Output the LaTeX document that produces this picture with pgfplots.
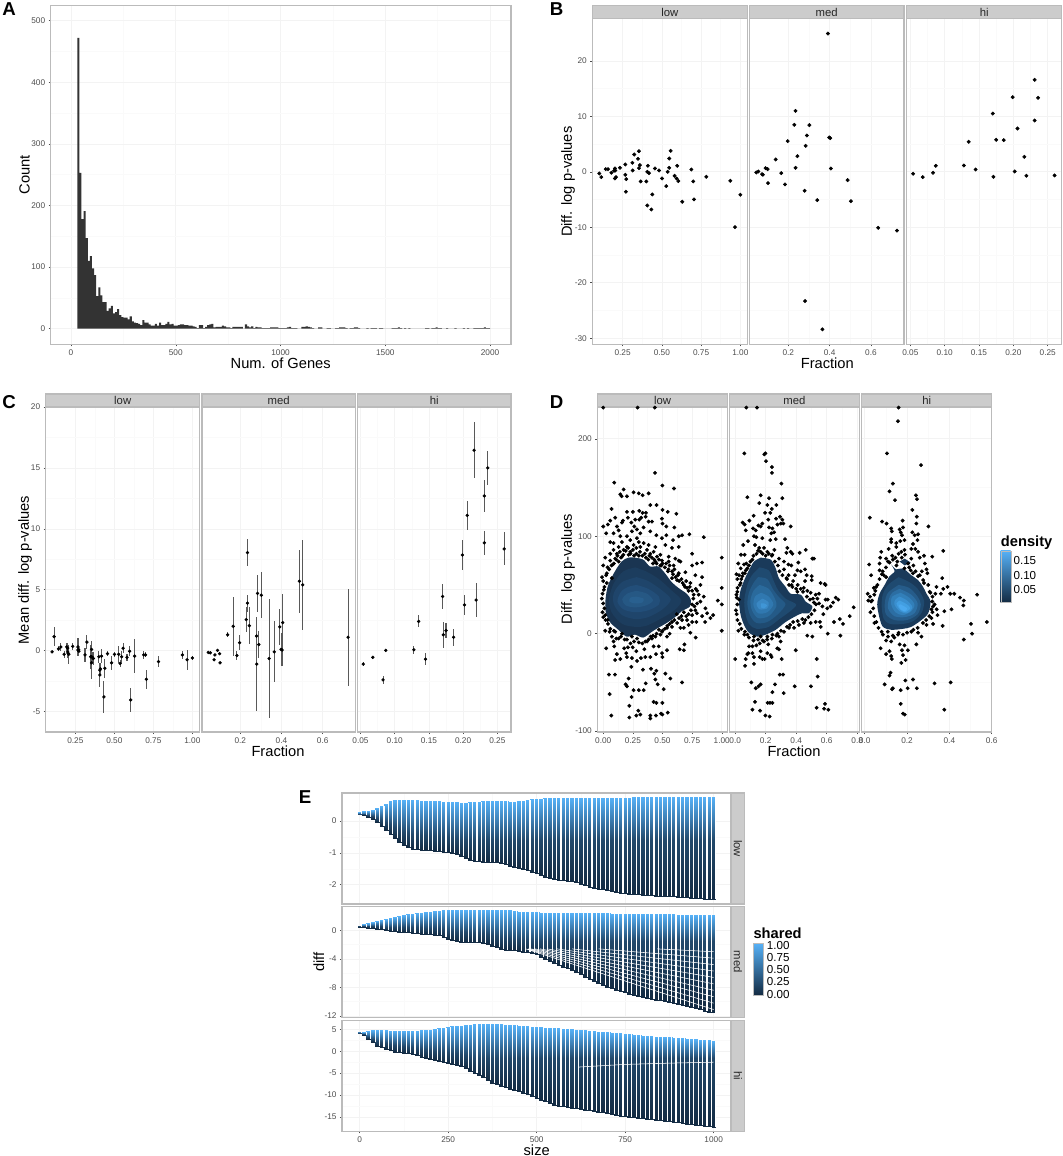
\documentclass[border=0pt]{standalone}
\usepackage{fontspec}
\setmainfont{Liberation Sans}
\usepackage{pgfplots}
\usepackage{pgfplotstable}
\pgfplotsset{compat=1.18}

\definecolor{frameg}{HTML}{BBBBBB}
\definecolor{stripg}{HTML}{CCCCCC}
\definecolor{gridg}{HTML}{F3F3F3}
\definecolor{gridm}{HTML}{FAFAFA}
\definecolor{tickt}{HTML}{4D4D4D}
\definecolor{hist}{HTML}{333333}
\definecolor{ggd}{HTML}{132B43}
\definecolor{ggl}{HTML}{56B1F7}
\definecolor{a1}{HTML}{1A3552}\definecolor{a2}{HTML}{1C3D5E}\definecolor{a3}{HTML}{1F456B}
\definecolor{a4}{HTML}{224E79}\definecolor{a5}{HTML}{265884}\definecolor{a6}{HTML}{29608F}
\definecolor{b1}{HTML}{1A3A5A}\definecolor{b2}{HTML}{1F4A70}\definecolor{b3}{HTML}{245A87}
\definecolor{b4}{HTML}{2A6A9C}\definecolor{b5}{HTML}{3078B0}\definecolor{b6}{HTML}{3A88C4}\definecolor{b7}{HTML}{4096D6}
\definecolor{c1}{HTML}{1A3A5A}\definecolor{c2}{HTML}{1F4A70}\definecolor{c3}{HTML}{265C8A}\definecolor{c4}{HTML}{2C6EA3}
\definecolor{c5}{HTML}{327FB9}\definecolor{c6}{HTML}{3A8FCF}\definecolor{c7}{HTML}{429FE2}\definecolor{c8}{HTML}{4BA9EF}

\pgfplotsset{
  box/.code n args={4}{%
    \pgfmathsetmacro\bw{(#3-#1)*0.75}\pgfmathsetmacro\bh{(#4-#2)*0.75}%
    \pgfplotsset{at={(#1*0.75pt,-#2*0.75pt)},anchor=north west,width=\bw pt,height=\bh pt}},
  gg/.style={scale only axis,
    axis line style={frameg,line width=0.9pt},
    grid=both,
    major grid style={gridg,line width=0.45pt},
    minor grid style={gridm,line width=0.35pt},
    minor tick num=1,minor tick length=0pt,
    major tick length=1.6pt,
    tick style={black!70,line width=0.4pt},
    tick align=outside,xtick pos=bottom,ytick pos=left,
    tick label style={font=\fontsize{6.2}{7}\selectfont,text=tickt},
    xticklabel style={yshift=1pt},yticklabel style={xshift=1pt}},
  inner/.style={yticklabels={},y tick style={draw=none}},
  dots/.style={only marks,mark=*,mark size=1.25pt,black,mark options={draw=none,fill=black}},
  errs/.style={only marks,mark=*,mark size=1.05pt,black,mark options={draw=none,fill=black},
    error bars/.cd,y dir=both,y explicit,error mark=none,
    error bar style={black!65,line width=0.8pt}},
  cols/.style={patch,patch type=rectangle,shader=interp,point meta=explicit,
    point meta min=0,point meta max=1,
    colormap={ggm}{rgb255(0cm)=(19,43,67); rgb255(1cm)=(86,177,247)}},
  gaps/.style={white,line width=0.85pt,mark=none,unbounded coords=jump},
  streak/.style={white,line width=0.4pt,mark=none,unbounded coords=jump},
}

\newcommand\strip[5]{\path[fill=stripg,draw=frameg,line width=0.8pt]
  (#1*0.75pt,-#2*0.75pt) rectangle (#3*0.75pt,-#4*0.75pt);
  \node[font=\fontsize{8.5}{10}\selectfont,text=black!85] at ({(#1+#3)/2*0.75pt},{-(#2+#4)/2*0.75pt}) {#5};}
\newcommand\vstrip[5]{\path[fill=stripg,draw=frameg,line width=0.8pt]
  (#1*0.75pt,-#2*0.75pt) rectangle (#3*0.75pt,-#4*0.75pt);
  \node[rotate=-90,font=\fontsize{8.5}{10}\selectfont,text=black!85] at ({(#1+#3)/2*0.75pt},{-(#2+#4)/2*0.75pt}) {#5};}
\newcommand\lab[4]{\node[#3] at (#1*0.75pt,-#2*0.75pt) {#4};}
\newcommand\axt{\fontsize{11}{13}\selectfont}
\newcommand\legt{\fontsize{8.7}{10}\selectfont}

% one thin rectangle stack per size: bottom dark, top light; #4 collects the white gaps
\newcommand\mkcols[4]{%
  \gdef#3{}\gdef#4{}%
  \pgfplotstablegetrowsof{#1}\pgfmathtruncatemacro\nrw{\pgfplotsretval-1}%
  \pgfplotsforeachungrouped \rw in {0,...,\nrw}{%
    \pgfplotstablegetelem{\rw}{s}\of{#1}\let\cs\pgfplotsretval
    \pgfplotstablegetelem{\rw}{lo}\of{#1}\let\clo\pgfplotsretval
    \pgfplotstablegetelem{\rw}{hi}\of{#1}\let\chg\pgfplotsretval
    \pgfmathsetmacro\xl{\cs-6}\pgfmathsetmacro\xr{\cs+6}\pgfmathsetmacro\xg{\cs+6.25}%
    \pgfmathsetmacro\cm{max(\clo+0.3*(\chg-\clo),#2)}%
    \pgfmathsetmacro\cq{(\cm+\chg)/2}%
    \xdef#3{#3 (\xl,\clo) [0] (\xr,\clo) [0] (\xr,\cm) [0.22] (\xl,\cm) [0.22]
      (\xl,\cm) [0.22] (\xr,\cm) [0.22] (\xr,\cq) [0.62] (\xl,\cq) [0.62]
      (\xl,\cq) [0.62] (\xr,\cq) [0.62] (\xr,\chg) [1] (\xl,\chg) [1] }%
    \xdef#4{#4 (\xg,\clo) (\xg,\chg) (\xg,nan) }%
  }}

\pgfplotstableread{
s lo hi
0 0.22 0.27
12.5 0.19 0.30
25 0.13 0.33
37.5 0.06 0.36
50 -0.02 0.40
62.5 -0.15 0.46
75 -0.28 0.54
87.5 -0.41 0.62
100 -0.54 0.65
112.5 -0.65 0.65
125 -0.75 0.65
137.5 -0.83 0.65
150 -0.87 0.65
162.5 -0.88 0.65
175 -0.90 0.64
187.5 -0.91 0.64
200 -0.92 0.63
212.5 -0.94 0.63
225 -0.95 0.62
237.5 -0.96 0.61
250 -0.97 0.60
262.5 -1.00 0.60
275 -1.05 0.59
287.5 -1.11 0.58
300 -1.17 0.58
312.5 -1.21 0.59
325 -1.25 0.60
337.5 -1.27 0.61
350 -1.28 0.62
362.5 -1.28 0.63
375 -1.29 0.63
387.5 -1.30 0.62
400 -1.31 0.62
412.5 -1.35 0.62
425 -1.40 0.61
437.5 -1.44 0.61
450 -1.48 0.62
462.5 -1.52 0.63
475 -1.55 0.66
487.5 -1.59 0.68
500 -1.62 0.69
512.5 -1.68 0.70
525 -1.75 0.71
537.5 -1.79 0.71
550 -1.82 0.72
562.5 -1.84 0.72
575 -1.85 0.72
587.5 -1.87 0.72
600 -1.89 0.72
612.5 -1.93 0.72
625 -1.98 0.72
637.5 -2.02 0.72
650 -2.06 0.72
662.5 -2.09 0.72
675 -2.12 0.72
687.5 -2.15 0.72
700 -2.18 0.72
712.5 -2.21 0.72
725 -2.24 0.73
737.5 -2.26 0.73
750 -2.27 0.73
762.5 -2.28 0.73
775 -2.29 0.74
787.5 -2.30 0.74
800 -2.31 0.75
812.5 -2.32 0.75
825 -2.33 0.75
837.5 -2.34 0.75
850 -2.35 0.75
862.5 -2.35 0.75
875 -2.36 0.75
887.5 -2.37 0.75
900 -2.38 0.75
912.5 -2.39 0.75
925 -2.40 0.75
937.5 -2.41 0.75
950 -2.42 0.75
962.5 -2.43 0.75
975 -2.44 0.75
987.5 -2.45 0.75
1000 -2.46 0.75
}\elow

\pgfplotstableread{
s lo hi
0 0.50 0.65
12.5 0.42 0.85
25 0.35 1.00
37.5 0.29 1.18
50 0.23 1.35
62.5 0.14 1.48
75 0.05 1.60
87.5 -0.05 1.70
100 -0.14 1.80
112.5 -0.17 1.98
125 -0.20 2.15
137.5 -0.28 2.25
150 -0.37 2.30
162.5 -0.42 2.38
175 -0.47 2.45
187.5 -0.52 2.52
200 -0.56 2.57
212.5 -0.60 2.66
225 -0.65 2.75
237.5 -0.95 2.78
250 -1.26 2.80
262.5 -1.38 2.80
275 -1.50 2.80
287.5 -1.57 2.80
300 -1.63 2.80
312.5 -1.66 2.80
325 -1.68 2.80
337.5 -1.70 2.80
350 -1.73 2.80
362.5 -1.92 2.80
375 -2.15 2.80
387.5 -2.40 2.80
400 -2.66 2.80
412.5 -2.72 2.80
425 -2.78 2.78
437.5 -2.82 2.70
450 -2.85 2.60
462.5 -2.98 2.57
475 -3.10 2.55
487.5 -3.23 2.52
500 -3.36 2.50
512.5 -3.70 2.49
525 -4.07 2.48
537.5 -4.35 2.47
550 -4.63 2.46
562.5 -4.86 2.45
575 -5.10 2.45
587.5 -5.33 2.44
600 -5.56 2.43
612.5 -5.86 2.42
625 -6.17 2.42
637.5 -6.48 2.41
650 -6.78 2.40
662.5 -7.06 2.39
675 -7.34 2.38
687.5 -7.62 2.37
700 -7.90 2.36
712.5 -8.10 2.35
725 -8.30 2.35
737.5 -8.50 2.34
750 -8.70 2.33
762.5 -8.85 2.32
775 -9.00 2.31
787.5 -9.15 2.30
800 -9.30 2.29
812.5 -9.43 2.28
825 -9.56 2.27
837.5 -9.69 2.26
850 -9.82 2.25
862.5 -9.95 2.24
875 -10.08 2.23
887.5 -10.20 2.22
900 -10.33 2.21
912.5 -10.48 2.20
925 -10.63 2.19
937.5 -10.78 2.18
950 -10.93 2.17
962.5 -11.08 2.15
975 -11.23 2.14
987.5 -11.38 2.12
1000 -11.54 2.10
}\emed

\pgfplotstableread{
s lo hi
0 4.20 4.33
12.5 3.70 4.50
25 2.80 4.64
37.5 2.00 4.75
50 1.20 4.87
62.5 0.90 4.80
75 0.60 4.75
87.5 0.25 4.72
100 -0.08 4.70
112.5 -0.20 4.70
125 -0.35 4.70
137.5 -0.48 4.70
150 -0.60 4.70
162.5 -0.90 4.72
175 -1.20 4.75
187.5 -1.50 4.80
200 -1.80 4.87
212.5 -2.05 5.05
225 -2.30 5.25
237.5 -2.50 5.40
250 -2.74 5.55
262.5 -2.95 5.65
275 -3.15 5.75
287.5 -3.40 5.85
300 -3.90 5.93
312.5 -4.50 6.05
325 -5.00 6.16
337.5 -5.45 6.16
350 -5.93 6.16
362.5 -6.60 6.16
375 -7.22 6.16
387.5 -7.55 6.16
400 -7.90 6.16
412.5 -8.20 6.08
425 -8.50 6.00
437.5 -8.80 5.93
450 -9.05 5.86
462.5 -9.45 5.78
475 -9.85 5.70
487.5 -10.25 5.63
500 -10.65 5.55
512.5 -11.05 5.48
525 -11.45 5.41
537.5 -11.85 5.34
550 -12.24 5.27
562.5 -12.40 5.20
575 -12.55 5.13
587.5 -12.70 5.07
600 -12.85 5.00
612.5 -13.00 4.92
625 -13.20 4.83
637.5 -13.35 4.75
650 -13.50 4.67
662.5 -13.65 4.58
675 -13.80 4.50
687.5 -13.95 4.42
700 -14.10 4.33
712.5 -14.30 4.24
725 -14.45 4.14
737.5 -14.65 4.05
750 -14.83 3.95
762.5 -14.95 3.84
775 -15.05 3.72
787.5 -15.18 3.60
800 -15.30 3.50
812.5 -15.42 3.44
825 -15.53 3.38
837.5 -15.65 3.32
850 -15.75 3.27
862.5 -15.87 3.21
875 -15.98 3.15
887.5 -16.10 3.10
900 -16.20 3.04
912.5 -16.35 2.96
925 -16.50 2.87
937.5 -16.65 2.79
950 -16.75 2.70
962.5 -16.90 2.62
975 -17.05 2.53
987.5 -17.15 2.45
1000 -17.30 2.36
}\ehi

\begin{document}
\mkcols{\elow}{-0.6}{\ptslow}{\gaplow}%
\mkcols{\emed}{-1.5}{\ptsmed}{\gapmed}%
\mkcols{\ehi}{-1.5}{\ptshi}{\gaphi}%
\begin{tikzpicture}
\path[use as bounding box] (0,0) rectangle (797.25pt,-867pt);

%% ---------- A
\begin{axis}[gg,box={50.7}{5.3}{511}{344.3},xmin=-97,xmax=2100,ymin=-25.3,ymax=525,
  xtick={0,500,1000,1500,2000},xticklabels={0,500,1000,1500,2000},
  ytick={0,100,200,300,400,500},yticklabels={0,100,200,300,400,500}]
\addplot[const plot,fill=hist,draw=none] coordinates {
(30,472)(40,253)(50,178)(60,191)(70,147)(80,110)(90,118)(100,98)(110,87)(120,53)(130,67)(140,54)(150,43)(160,43)
(170,29)(180,33)(190,37)(200,25)(210,27)(220,32)(230,22)(240,19)(250,18)(260,18)(270,15)(280,20)(290,12)(300,10)
(310,9)(320,8)(330,6)(340,14)(350,10)(360,10)(370,7)(380,5)(390,5)(400,8)(410,5)(420,10)(430,6)(440,6)(450,8)
(460,11)(470,7)(480,8)(490,5)(500,5)(510,6)(520,7)(530,7)(540,6)(550,6)(560,5)(570,5)(580,4)(590,3)(600,1)(610,6)
(620,6)(630,1)(640,3)(650,6)(660,7)(670,8)(680,2)(690,3)(700,3)(710,3)(720,5)(730,4)(740,2)(750,2)(760,1)(770,3)
(780,3)(790,3)(800,3)(810,3)(820,0)(830,7)(840,4)(850,2)(860,4)(870,1)(880,3)(890,2)(900,2)(910,1)(920,1)(930,1)
(940,1)(950,2)(960,2)(970,2)(980,2)(990,1)(1000,1)(1010,1)(1020,1)(1030,2)(1040,3)(1050,1)(1060,1)(1070,1)(1080,0)
(1090,0)(1100,3)(1110,3)(1120,4)(1130,3)(1140,2)(1150,1)(1160,0)(1170,0)(1180,2)(1190,2)(1200,0)(1210,0)(1220,1)
(1230,1)(1240,0)(1250,0)(1260,1)(1270,1)(1280,2)(1290,2)(1300,2)(1310,1)(1320,0)(1330,1)(1340,1)(1350,2)(1360,2)
(1370,1)(1380,0)(1400,0)(1410,1)(1420,0)(1430,1)(1440,1)(1450,1)(1460,0)(1470,1)(1480,1)(1490,0)(1530,1)(1540,1)
(1550,1)(1560,2)(1570,1)(1580,0)(1590,1)(1600,0)(1610,1)(1620,0)(1680,0)(1690,1)(1700,1)(1710,0)(1720,1)(1730,1)
(1740,2)(1750,1)(1760,1)(1770,0)(1790,1)(1800,0)(1830,1)(1840,0)(1870,1)(1880,0)(1890,1)(1900,0)(1920,1)(1930,1)
(1940,1)(1950,1)(1960,1)(1970,2)(1980,1)(1990,1)(2000,0)} \closedcycle;
\end{axis}
\lab{9}{9}{font=\bfseries\fontsize{14}{16}\selectfont}{A}
\lab{280.7}{363}{font=\axt}{Num. of Genes}
\lab{24.7}{174.7}{font=\axt,rotate=90}{Count}

%% ---------- B
\strip{592.3}{5.3}{747.3}{18.7}{low}
\strip{749.3}{5.3}{904}{18.7}{med}
\strip{906.7}{5.3}{1061.7}{18.7}{hi}
\begin{axis}[gg,box={592.3}{18.7}{747.3}{344.3},xmin=0.0567,xmax=1.0446,ymin=-31.1,ymax=27.6,
  xtick={0.25,0.5,0.75,1},xticklabels={0.25,0.50,0.75,1.00},
  ytick={-30,-20,-10,0,10,20},yticklabels={-30,-20,-10,0,10,20}]
\addplot[dots] coordinates {(0.101,-0.30)(0.114,-0.96)(0.142,0.48)(0.157,0.48)(0.178,-0.18)(0.195,0.18)(0.201,0.60)(0.203,0.24)
(0.201,-1.20)(0.208,-0.96)(0.233,0.72)(0.267,1.32)(0.267,-0.54)(0.271,-3.6)(0.273,-1.32)(0.312,1.62)(0.314,0.24)(0.324,3.12)
(0.348,2.34)(0.354,0.66)(0.354,3.72)(0.360,1.2)(0.365,-1.74)(0.401,-1.74)(0.411,1.08)(0.407,0)(0.418,-0.24)(0.407,-6.07)
(0.433,-6.79)(0.439,-4.08)(0.456,0.6)(0.482,0.24)(0.501,-1.2)(0.528,-2.58)(0.537,0)(0.547,2.4)(0.547,0.72)(0.556,3.78)
(0.581,-0.72)(0.594,-1.2)(0.598,1.08)(0.605,-1.68)(0.630,-5.40)(0.688,0.42)(0.700,-1.74)(0.705,-4.98)(0.783,-0.9)
(0.936,-1.62)(0.966,-9.97)(1.0,-4.14)};
\end{axis}
\begin{axis}[gg,inner,box={749.3}{18.7}{904}{344.3},xmin=0.0113,xmax=0.76,ymin=-31.1,ymax=27.6,
  xtick={0.2,0.4,0.6},xticklabels={0.2,0.4,0.6},ytick={-30,-20,-10,0,10,20}]
\addplot[dots] coordinates {(0.045,-0.12)(0.055,0.06)(0.073,-0.42)(0.077,-0.54)(0.090,0.66)(0.100,0.48)(0.102,-2.04)(0.139,2.22)
(0.166,-0.24)(0.184,-2.28)(0.197,5.53)(0.229,8.47)(0.235,10.99)(0.235,0.72)(0.244,2.82)(0.279,-3.42)(0.284,4.68)(0.290,6.55)
(0.302,8.41)(0.281,-23.3)(0.340,-5.11)(0.365,-28.4)(0.392,24.92)(0.398,6.19)(0.403,6.07)(0.406,0.60)(0.487,-1.50)(0.503,-5.29)
(0.635,-10.1)(0.726,-10.6)};
\end{axis}
\begin{axis}[gg,inner,box={906.7}{18.7}{1061.7}{344.3},xmin=0.0447,xmax=0.2704,ymin=-31.1,ymax=27.6,
  xtick={0.05,0.1,0.15,0.2,0.25},xticklabels={0.05,0.10,0.15,0.20,0.25},ytick={-30,-20,-10,0,10,20}]
\addplot[dots] coordinates {(0.054,-0.36)(0.068,-0.96)(0.083,-0.18)(0.087,1.08)(0.128,1.14)(0.135,5.41)(0.145,0.42)(0.170,10.5)
(0.171,-0.9)(0.175,5.77)(0.186,5.71)(0.199,13.45)(0.202,0.06)(0.206,7.81)(0.216,2.7)(0.219,-0.72)(0.231,9.25)(0.231,16.58)
(0.236,13.33)(0.260,-0.66)};
\end{axis}
\lab{556.7}{9}{font=\bfseries\fontsize{14}{16}\selectfont}{B}
\lab{827.3}{363}{font=\axt}{Fraction}
\lab{568}{181.7}{font=\axt,rotate=90}{Diff. log p-values}

%% ---------- C
\strip{45.7}{394}{199.7}{407}{low}
\strip{202}{394}{355.3}{407}{med}
\strip{357.5}{394}{511}{407}{hi}
\begin{axis}[gg,box={45.7}{407}{199.7}{732},xmin=0.06,xmax=1.047,ymin=-6.68,ymax=20,
  xtick={0.25,0.5,0.75,1},xticklabels={0.25,0.50,0.75,1.00},
  ytick={-5,0,5,10,15,20},yticklabels={-5,0,5,10,15,20}]
\addplot[errs] table[x=x,y=y,y error=e,row sep=\\] {x y e\\
0.101 -0.1 0.1\\0.114 1.15 0.8\\0.142 0.15 0.2\\0.157 0.3 0.3\\0.178 -0.3 0.3\\0.195 0.3 0.3\\0.201 0.2 0.4\\0.203 -0.2 0.4\\
0.201 -0.1 0.3\\0.208 -0.3 0.8\\0.233 0.35 0.3\\0.267 0.3 0.7\\0.267 0.05 0.35\\0.271 0.1 0.3\\0.273 -0.05 0.3\\0.312 -0.35 0.6\\
0.324 0.7 0.6\\0.348 -0.5 1\\0.354 -1.0 1.3\\0.354 -0.5 1.3\\0.354 0.1 0.7\\0.36 -0.55 0.4\\0.365 -0.65 0.5\\0.401 -0.5 0.5\\
0.411 -1.5 0.5\\0.407 -2.0 1\\0.407 -1.6 0.6\\0.418 -0.45 0.6\\0.433 -3.8 1.3\\0.439 -1.45 0.8\\0.456 -0.25 0.2\\0.482 -1.0 0.6\\
0.501 -0.3 0.2\\0.528 -0.3 0.7\\0.537 -1.05 0.3\\0.547 -0.5 0.5\\0.556 0.2 0.4\\0.581 -0.55 0.3\\0.598 -0.05 0.4\\0.605 -4.05 1\\
0.630 -0.45 1.4\\0.688 -0.35 0.3\\0.700 -0.35 0.2\\0.705 -2.35 0.8\\0.783 -0.9 0.45\\0.936 -0.35 0.3\\0.966 -0.75 0.8\\1.0 -0.6 0.2\\};
\end{axis}
\begin{axis}[gg,inner,box={202}{407}{355.3}{732},xmin=0.0145,xmax=0.758,ymin=-6.68,ymax=20,
  xtick={0.2,0.4,0.6},xticklabels={0.2,0.4,0.6},ytick={-5,0,5,10,15,20}]
\addplot[errs] table[x=x,y=y,y error=e,row sep=\\] {x y e\\
0.045 -0.15 0.05\\0.055 -0.18 0.05\\0.073 -0.75 0.1\\0.077 -0.35 0.05\\0.09 0.02 0.05\\0.1 -0.25 0.05\\0.102 -1.0 0.1\\0.139 1.3 0.2\\
0.166 2.0 2.4\\0.184 -0.4 0.4\\0.197 0.65 0.6\\0.229 2.55 1.0\\0.235 8.05 1.1\\0.235 3.9 0.7\\0.244 2.05 1.5\\0.279 1.2 1.6\\
0.28 -1.1 3.85\\0.284 4.7 1.5\\0.29 0.5 1.1\\0.302 4.55 1.9\\0.34 -0.65 4.85\\0.365 -0.1 2.5\\0.392 1.95 1.5\\0.398 0.1 1.35\\
0.403 0.05 1.35\\0.406 2.3 2.35\\0.487 5.7 2.6\\0.503 5.4 3.7\\0.635 -6.7 0\\0.723 1.1 4.0\\};
\end{axis}
\begin{axis}[gg,inner,box={357.5}{407}{511}{732},xmin=0.0456,xmax=0.27,ymin=-6.68,ymax=20,
  xtick={0.05,0.1,0.15,0.2,0.25},xticklabels={0.05,0.10,0.15,0.20,0.25},ytick={-5,0,5,10,15,20}]
\addplot[errs] table[x=x,y=y,y error=e,row sep=\\] {x y e\\
0.054 -1.1 0.15\\0.068 -0.55 0.1\\0.083 -2.4 0.35\\0.087 0.02 0.05\\0.128 0.07 0.35\\0.135 2.4 0.5\\0.145 -0.7 0.5\\0.17 4.45 1.05\\
0.171 1.3 1.05\\0.175 1.65 0.6\\0.186 1.1 0.7\\0.199 7.85 1.2\\0.202 3.75 0.85\\0.206 11.1 1.2\\0.216 16.45 2.3\\0.219 4.15 1.4\\
0.231 12.7 1.3\\0.231 8.85 1.0\\0.236 15 1.4\\0.26 8.35 1.35\\};
\end{axis}
\lab{9}{402}{font=\bfseries\fontsize{14}{16}\selectfont}{C}
\lab{278}{751}{font=\axt}{Fraction}
\lab{25}{570}{font=\axt,rotate=90}{Mean diff. log p-values}

%% ---------- D
\strip{597.3}{394}{727.7}{407}{low}
\strip{729.7}{394}{859.3}{407}{med}
\strip{861.7}{394}{991.7}{407}{hi}
\begin{axis}[gg,box={597.3}{407}{727.7}{732},xmin=-0.05,xmax=1.05,ymin=-100.9,ymax=232.6,
  xtick={0,0.25,0.5,0.75,1},xticklabels={0.00,0.25,0.50,0.75,1.00},
  ytick={-100,0,100,200},yticklabels={-100,0,100,200}]
\addplot[dots] coordinates {(0,232)(0.29,232)(0.435,232)(0.437,165)(0.093,155)(0.499,152)(0.597,149)(0.172,148)(0.144,143)(0.155,141)
(0.2,141)(0.256,145)(0.3,144)(0.332,142)(0.383,144)(0.397,132)(0.45,132)(0.07,128)(0.5,127)(0.544,125)(0.617,123)(0.2,125)(0.25,125)
(0.304,126)(0.332,124)(0.36,124)(0.358,120)(0.32,119)(0.101,119)(0.059,116)(0.039,112)(0,110)(0.166,116)(0.208,119)(0.237,114)(0.27,117)
(0.304,117)(0.383,115)(0.411,115)(0.495,118)(0.5,113)(0.532,110)(0.6,109)(0.116,110)(0.13,106)(0.087,103)(0.025,103)(0.158,114)(0.262,110)
(0.284,107)(0.34,109)(0.397,105)(0.448,101)(0.532,101)(0.665,101)(0.727,102)(0.848,99)(0.637,100)(0.589,96)(0.495,98)(0.313,103)(0.242,105)
(0.2,100)(0.144,100)(0.059,94)(0.087,93)(0.158,94)(0.228,96)(0.284,98)(0.3,94)(0.341,93)(0.383,91)(0.44,89)(0.524,91)(0.58,88)(0.637,89)
(0.75,82)(0.79,72)(0.834,73)(1.0,78)(0.75,70)(0.651,74)(0.608,77)(0.552,79)(0.482,81)(0.425,84)(0.369,86)(0.313,89)(0.256,91)(0.2,89)(0.13,89)
(0.087,86)(0.059,82)(0.115,82)(0.172,86)(0.228,84)(0.279,88)(0.017,78)(0.059,75)(0.101,77)(0.158,79)(0.214,81)(0.397,82)(0.454,79)(0.496,75)
(0.552,74)(0.594,70)(0.637,75)(0,70)(0.037,68)(0.082,71)(0.13,74)(0.44,74)(0.482,70)
(0.546,64)(0.589,61)(0.637,62)(0.693,63)(0.777,60)(0.834,58)(1.0,47)(0.82,50)(0.792,44)(0.735,52)(0.68,50)(0.623,55)(0.58,57)(0.707,47)(0.763,40)
(0.805,40)(0.848,38)(0.82,33)(0.862,26)(0.792,31)(0.777,24)(0.75,19)(0.707,14)(0.665,14)(0.623,11)(0.651,6)(0.58,7)(0.538,6)(0.496,2)(0.735,1)
(0.78,-4)(0.966,34)(1.0,30)(0.927,19)(0.904,16)(0.859,12)(0.786,12)(1.0,3)(0.75,12)(0.72,9)(0.68,6)(0.834,18)(0.79,21)(0.876,21)(0.56,0)(0.538,-3)
(0.482,-1)(0,54)(0.073,57)(0.025,60)(-0.006,41)(-0.012,36)(0,31)(-0.006,22)(0.017,19)(0.037,14)(0.017,3)(0.054,2)(0.073,-3)(0.101,2)(0.087,-8)
(0.093,-13)(0.025,-15)(0.158,0)(0.13,-5)(0.2,-6)(0.242,-3)(0.285,-5)(0.355,-8)(0.383,-6)(0.411,-5)(0.44,-3)(0.468,-13)(0.425,-13)(0.538,-17)
(0.645,-16)(0.685,-11)(0.68,-17)(0.177,-15)(0.208,-14)(0.248,-14)(0.279,-18)(0.347,-16)(0.115,-21)(0.1,-27)(0.144,-26)(0.194,-20)(0.2,-24)
(0.242,-25)(0.285,-28)(0.318,-25)(0.355,-24)(0.397,-24)(0.445,-21)(0.496,-20)(0.499,-24)(0.237,-34)(0.335,-37)(0.403,-36)(0.448,-38)(0.431,-41)
(0.524,-41)(0.566,-46)(0.665,-50)(0.048,-42)(0.099,-42)(0.214,-46)(0.44,-47)(0.459,-52)(0.358,-51)(0.189,-52)(0.2,-54)(0.51,-57)(0.256,-58)
(0.3,-58)(0.341,-58)(0.054,-62)(0.239,-65)(0.425,-70)(0.448,-71)(0.499,-71)(0.22,-74)(0.296,-79)(0.068,-84)(0.22,-86)(0.279,-84)(0.313,-83)
(0.397,-84)(0.397,-87)(0.445,-84)(0.487,-82)(0.499,-83)(0.544,-81)
(0.03,62)(0.05,66)(0.07,70)(0.09,72)(0.11,76)(0.12,80)(0.14,84)(0.15,78)(0.17,81)(0.19,85)(0.21,88)(0.23,82)(0.25,86)(0.26,80)(0.28,82)(0.3,80)
(0.31,84)(0.33,80)(0.35,82)(0.36,78)(0.38,76)(0.39,80)(0.41,78)(0.42,72)(0.43,76)(0.45,72)(0.47,76)(0.49,70)(0.5,72)(0.52,68)(0.53,72)(0.55,66)
(0.56,70)(0.58,64)(0.6,66)(0.61,58)(0.63,60)(0.64,54)(0.66,56)(0.67,52)(0.69,48)(0.7,54)(0.72,44)(0.73,48)(0.75,44)(0.76,36)(0.78,46)(0.75,30)
(0.77,28)(0.74,24)(0.72,20)(0.7,18)(0.68,22)(0.66,18)(0.64,16)(0.62,20)(0.6,14)(0.58,12)(0.56,10)(0.54,8)(0.52,5)(0.5,3)(0.47,4)(0.45,0)(0.42,-2)
(0.4,-3)(0.37,-8)(0.33,-10)(0.3,-9)(0.26,-8)(0.23,-10)(0.18,-6)(0.15,-3)(0.11,-5)(0.09,3)(0.06,5)(0.04,10)(0.02,14)(0,17)(0.01,26)(0.005,45)(0.01,48)
(0.03,52)(-0.01,58)};
\addplot[fill=a1,draw=none,smooth] coordinates {(0.268,78)(0.338,76)(0.394,69)(0.465,69)(0.521,62)(0.577,53)(0.634,47)(0.704,41)(0.738,35)(0.732,28)(0.662,23)(0.606,17)(0.549,12)(0.493,8)(0.423,3)(0.338,-4)(0.268,-1)(0.197,-3)(0.127,4)(0.056,12)(0.02,23)(0.02,36)(0.042,50)(0.099,64)(0.155,74)(0.211,78)(0.268,78)};
\addplot[fill=a2,draw=none,smooth] coordinates {(0.27,68)(0.36,64)(0.47,56)(0.58,44)(0.66,34)(0.6,24)(0.48,15)(0.36,8)(0.27,7)(0.16,10)(0.07,22)(0.05,36)(0.09,52)(0.17,64)(0.27,68)};
\addplot[fill=a3,draw=none,smooth] coordinates {(0.28,58)(0.38,54)(0.5,44)(0.57,35)(0.5,25)(0.38,17)(0.27,15)(0.16,19)(0.09,30)(0.09,42)(0.16,53)(0.28,58)};
\addplot[fill=a4,draw=none,smooth] coordinates {(0.28,50)(0.38,46)(0.47,38)(0.47,30)(0.38,24)(0.27,22)(0.17,25)(0.12,33)(0.15,43)(0.21,48)(0.28,50)};
\addplot[fill=a5,draw=none,smooth] coordinates {(0.28,44)(0.37,41)(0.42,34)(0.36,29)(0.27,27)(0.19,29)(0.16,35)(0.2,41)(0.28,44)};
\addplot[fill=a6,draw=none,smooth] coordinates {(0.28,38)(0.34,36)(0.33,32)(0.27,31)(0.22,33)(0.23,37)(0.28,38)};
\end{axis}
\begin{axis}[gg,inner,box={729.7}{407}{859.3}{732},xmin=-0.036,xmax=0.814,ymin=-100.9,ymax=232.6,
  xtick={0,0.2,0.4,0.6,0.8},xticklabels={0.0,0.2,0.4,0.6,0.8},ytick={-100,0,100,200}]
\addplot[dots] coordinates {(0.073,232)(0.143,232)(0.06,185)(0.198,185)(0.191,184)(0.202,177)(0.241,171)(0.241,165)(0.303,154)(0.08,140)(0.167,142)(0.222,139)
(0.309,139)(0.158,134)(0.211,132)(0.27,132)(0.24,128)(0.196,124)(0.23,124)(0.121,121)(0.093,116)(0.049,114)(0.062,112)(0.294,120)(0.309,117)(0.268,118)
(0.217,117)(0.178,113)(0.152,111)(0.167,110)(0.117,108)(0.135,106)(0.069,106)(0.222,109)(0.244,108)(0.237,103)(0.255,104)(0.277,112)(0.299,113)(0.316,113)
(0.364,110)(0.123,100)(0.139,99)(0.178,98)(0.23,96)(0.266,97)(0.327,97)(0.084,95)(0.053,91)(0.13,91)(0.038,81)(0.062,81)(0.157,88)(0.167,84)(0.189,88)
(0.211,84)(0.244,81)(0.257,86)(0.342,88)(0.364,84)(0.336,83)(0.375,82)(0.423,83)(0.463,86)(0.506,77)(0.517,77)(0.414,73)(0.287,77)(0.32,74)(0.349,71)
(0.368,70)(0.458,66)(0.43,64)(0.408,65)(0.392,60)(0.469,60)(0.502,59)(0.502,55)(0.458,54)(0.336,57)(0.02,72)(0.036,67)(0.058,71)(0.073,72)(0.08,67)
(0.113,76)(0.008,61)(0.025,60)(0.014,56)(0.047,59)(0.063,62)(0.036,52)(0.014,43)(0.008,40)(0.025,35)(0.014,30)(0.56,52)(0.587,51)(0.593,50)(0.353,50)
(0.375,48)(0.408,43)(0.445,43)(0.473,44)(0.495,42)(0.528,40)(0.55,41)(0.539,36)(0.517,32)(0.55,31)(0.593,35)(0.607,35)(0.572,28)(0.604,26)(0.659,37)
(0.676,35)(0.642,32)(0.626,28)(0.777,27)(0.751,18)(0.578,20)(0.686,15)(0.707,10)(0.648,12)(0.556,12)(0.528,12)(0.495,11)(0.451,11)(0.418,9)(0.386,6)
(0.561,7)(0.607,0)(0.69,-2)(0.506,-3)(0.473,-2)(0.021,3)(0.064,2)(0.08,-1)(0.123,-3)(0.167,-3)(0.211,-3)(0.244,-1)(0.277,0)(0.287,-3)(0.32,2)(0.353,6)
(0.298,-8)(0.189,-8)(0.161,-10)(0.217,-11)(0.091,-13)(0.113,-13)(0.139,-12)(0.276,-15)(0.287,-16)(0.086,-20)(0.113,-20)(0.167,-18)(0.211,-20)(0.233,-22)
(0.397,-17)(0,-26)(0.069,-26)(0.08,-21)(0.123,-24)(0.161,-24)(0.178,-26)(0.193,-26)(0.239,-24)(0.305,-26)(0.535,-26)(0.123,-31)(0.065,-33)(0.292,-42)
(0.314,-42)(0.541,-44)(0.106,-50)(0.167,-52)(0.261,-52)(0.153,-54)(0.135,-56)(0.39,-54)(0.497,-54)(0.244,-60)(0.318,-61)(0.13,-70)(0.213,-71)(0.228,-71)
(0.244,-71)(0.534,-76)(0.589,-72)(0.583,-77)(0.611,-78)(0.113,-78)(0.163,-79)(0.198,-84)(0.226,-85)
(0.05,62)(0.07,65)(0.09,70)(0.1,74)(0.12,80)(0.14,82)(0.15,85)(0.18,82)(0.2,80)(0.22,82)(0.24,80)(0.26,74)(0.28,70)(0.29,64)(0.31,60)(0.32,66)(0.34,56)
(0.35,60)(0.37,50)(0.38,54)(0.4,46)(0.41,50)(0.43,46)(0.45,47)(0.47,38)(0.49,35)(0.51,36)(0.52,24)(0.53,30)(0.5,20)(0.48,17)(0.46,14)(0.44,15)(0.41,13)
(0.38,12)(0.36,9)(0.34,7)(0.3,3)(0.27,-2)(0.24,-5)(0.21,-6)(0.18,-7)(0.15,-6)(0.12,-7)(0.09,-4)(0.06,-1)(0.04,5)(0.03,10)(0.015,14)(0.01,20)(0.005,24)
(0.01,37)(0.015,47)(0.03,50)(0.04,56)};
\addplot[fill=b1,draw=none,smooth] coordinates {(0.167,78)(0.233,76)(0.266,67)(0.287,57)(0.331,48)(0.364,41)(0.43,40)(0.462,33)(0.506,28)(0.484,21)(0.44,21)(0.397,18)(0.331,12)(0.266,4)(0.2,-1)(0.145,-3)(0.09,1)(0.058,9)(0.036,19)(0.025,33)(0.036,45)(0.065,57)(0.09,65)(0.123,74)(0.167,78)};
\addplot[fill=b2,draw=none,smooth] coordinates {(0.16,68)(0.22,65)(0.25,55)(0.28,45)(0.33,36)(0.4,30)(0.36,23)(0.29,15)(0.22,7)(0.14,5)(0.09,10)(0.065,22)(0.06,35)(0.08,50)(0.11,60)(0.16,68)};
\addplot[fill=b3,draw=none,smooth] coordinates {(0.15,58)(0.21,56)(0.25,45)(0.29,37)(0.33,30)(0.28,20)(0.21,12)(0.14,11)(0.1,18)(0.08,30)(0.09,42)(0.12,52)(0.15,58)};
\addplot[fill=b4,draw=none,smooth] coordinates {(0.16,50)(0.22,46)(0.26,36)(0.27,28)(0.22,18)(0.15,16)(0.11,24)(0.1,34)(0.12,44)(0.16,50)};
\addplot[fill=b5,draw=none,smooth] coordinates {(0.17,42)(0.22,38)(0.25,30)(0.21,22)(0.15,21)(0.12,29)(0.13,38)(0.17,42)};
\addplot[fill=b6,draw=none,smooth] coordinates {(0.18,36)(0.22,32)(0.21,26)(0.16,25)(0.14,31)(0.18,36)};
\addplot[fill=b7,draw=none,smooth] coordinates {(0.19,31)(0.21,29)(0.19,26)(0.17,27)(0.17,31)(0.19,31)};
\end{axis}
\begin{axis}[gg,inner,box={861.7}{407}{991.7}{732},xmin=-0.0143,xmax=0.6,ymin=-100.9,ymax=232.6,
  xtick={0,0.2,0.4,0.6},xticklabels={0.0,0.2,0.4,0.6},ytick={-100,0,100,200}]
\addplot[dots] coordinates {(0.16,232)(0.157,218)(0.105,185)(0.266,173)(0.133,154)(0.117,146)(0.143,137)(0.242,142)(0.247,138)(0.225,127)(0.246,120)(0.024,119)
(0.082,115)(0.103,113)(0.179,116)(0.244,113)(0.301,110)(0.125,108)(0.128,105)(0.165,107)(0.17,104)(0.181,109)(0.225,104)(0.236,101)(0.252,102)(0.176,101)
(0.125,97)(0.125,94)(0.149,93)(0.168,95)(0.188,96)(0.249,96)(0.228,92)(0.371,85)(0.078,84)(0.113,87)(0.149,89)(0.173,84)(0.188,86)(0.22,87)(0.239,87)(0.252,84)
(0.28,80)(0.319,79)(0.073,78)(0.021,71)(0.07,72)(0.101,77)(0.133,76)(0.117,73)(0.154,74)(0.22,77)(0.26,78)(0.284,72)(0.292,66)(0.296,62)(0.03,60)(0.081,61)
(0.09,60)(0.101,58)(0.07,65)(0.188,67)(0.217,65)(0.228,62)(0.252,59)(0.276,55)(0.366,57)(0.339,48)(0.391,48)(0.371,46)(0.043,47)(0.054,48)(0.014,41)(0.025,38)
(0.017,34)(0.03,33)(0.307,43)(0.334,41)(0.36,41)(0.404,41)(0.423,41)(0.45,37)(0.468,34)(0.531,40)(0.466,29)(0.41,25)(0.376,23)(0.319,33)(0.323,28)(0.344,19)
(0.315,16)(0.323,10)(0.292,9)(0.368,8)(0.027,22)(0.046,11)(0.502,10)(0.577,12)(0.507,0)(0.468,-6)(0.086,-1)(0.109,2)(0.133,-2)(0.157,-1)(0.181,-1)(0.22,2)
(0.252,1)(0.268,-3)(0.244,-11)(0.101,-7)(0.125,-8)(0.165,-11)(0.075,-15)(0.188,-12)(0.176,-17)(0.204,-17)(0.101,-21)(0.117,-18)(0.125,-23)(0.128,-26)(0.181,-22)
(0.193,-27)(0.173,-30)(0.122,-40)(0.117,-43)(0.094,-52)(0.192,-48)(0.228,-47)(0.33,-51)(0.406,-50)(0.129,-57)(0.133,-56)(0.17,-58)(0.203,-56)(0.246,-56)
(0.17,-72)(0.376,-78)(0.181,-82)(0.189,-83)
(0.07,56)(0.085,64)(0.1,68)(0.11,74)(0.13,80)(0.145,78)(0.15,70)(0.16,82)(0.175,78)(0.19,81)(0.205,72)(0.21,68)(0.23,70)(0.24,64)(0.26,60)(0.27,64)(0.28,52)
(0.3,50)(0.31,42)(0.32,38)(0.33,30)(0.34,25)(0.32,22)(0.315,25)(0.305,18)(0.29,14)(0.275,11)(0.25,6)(0.23,4)(0.2,1)(0.16,1)(0.14,-4)(0.11,-3)(0.08,2)(0.065,6)
(0.055,12)(0.045,18)(0.04,26)(0.035,34)(0.045,40)(0.05,44)(0.06,50)};
\addplot[fill=c1,draw=none] coordinates {(0.165,74)(0.189,77)(0.217,73)(0.189,70)};
\addplot[fill=c1,draw=none,smooth] coordinates {(0.125,71)(0.149,66)(0.181,67)(0.22,60)(0.252,55)(0.276,48)(0.292,41)(0.311,33)(0.3,21)(0.268,14)(0.22,7)(0.181,5)(0.125,4)(0.086,7)(0.07,16)(0.059,30)(0.07,41)(0.094,50)(0.117,59)(0.141,64)(0.125,71)};
\addplot[fill=c2,draw=none,smooth] coordinates {(0.16,58)(0.21,53)(0.25,46)(0.28,34)(0.27,22)(0.23,13)(0.18,10)(0.12,10)(0.09,15)(0.08,28)(0.085,40)(0.11,50)(0.16,58)};
\addplot[fill=c3,draw=none,smooth] coordinates {(0.16,50)(0.21,47)(0.25,38)(0.265,30)(0.25,20)(0.2,14)(0.14,14)(0.1,20)(0.095,32)(0.11,42)(0.16,50)};
\addplot[fill=c4,draw=none,smooth] coordinates {(0.165,46)(0.22,40)(0.25,31)(0.235,21)(0.19,17)(0.14,18)(0.11,26)(0.115,36)(0.13,42)(0.165,46)};
\addplot[fill=c5,draw=none,smooth] coordinates {(0.17,42)(0.21,37)(0.235,30)(0.22,23)(0.18,19)(0.145,22)(0.125,30)(0.13,38)(0.17,42)};
\addplot[fill=c6,draw=none,smooth] coordinates {(0.165,38)(0.2,34)(0.225,27)(0.2,21)(0.165,23)(0.14,30)(0.145,35)(0.165,38)};
\addplot[fill=c7,draw=none,smooth] coordinates {(0.165,34)(0.2,30)(0.215,26)(0.19,22)(0.165,25)(0.15,31)(0.165,34)};
\addplot[fill=c8,draw=none,smooth] coordinates {(0.17,30)(0.2,26)(0.19,23)(0.17,25)(0.16,29)(0.17,30)};
\end{axis}
\lab{556.7}{402}{font=\bfseries\fontsize{14}{16}\selectfont}{D}
\lab{794}{751}{font=\axt}{Fraction}
\lab{568}{569}{font=\axt,rotate=90}{Diff. log p-values}
\lab{1000.7}{543}{font=\bfseries\axt,anchor=west,inner sep=0pt}{density}
\shade[bottom color=ggd,top color=ggl,draw=frameg,line width=0.3pt] (1000.7*0.75pt,-550.7*0.75pt) rectangle (1010.7*0.75pt,-602.3*0.75pt);
\lab{1013.3}{560.7}{font=\legt,anchor=west,inner sep=0pt}{0.15}
\lab{1013.3}{575.3}{font=\legt,anchor=west,inner sep=0pt}{0.10}
\lab{1013.3}{589.7}{font=\legt,anchor=west,inner sep=0pt}{0.05}

%% ---------- E
\vstrip{731}{793}{744.7}{904}{low}
\vstrip{731}{906.3}{744.7}{1017.7}{med}
\vstrip{731}{1020.3}{744.7}{1131.3}{hi}
\begin{axis}[gg,box={342}{793}{731}{904},xmin=-50,xmax=1049,ymin=-2.607,ymax=0.88,
  xtick={0,250,500,750,1000},xticklabels={},x tick style={draw=none},
  ytick={-2,-1,0},yticklabels={-2,-1,0}]
\edef\doit{\noexpand\addplot[cols] coordinates {\ptslow};}\doit
\edef\doit{\noexpand\addplot[gaps] coordinates {\gaplow};}\doit
\end{axis}
\begin{axis}[gg,box={342}{906.3}{731}{1017.7},xmin=-50,xmax=1049,ymin=-12.24,ymax=3.36,
  xtick={0,250,500,750,1000},xticklabels={},x tick style={draw=none},
  ytick={-12,-8,-4,0},yticklabels={-12,-8,-4,0}]
\edef\doit{\noexpand\addplot[cols] coordinates {\ptsmed};}\doit
\edef\doit{\noexpand\addplot[gaps] coordinates {\gapmed};}\doit
% rows of dots thin out below the dense part
\addplot[streak] coordinates {(840,-2.6)(1000,-3.0)(1000,nan)(675,-2.6)(1000,-3.9)(1000,nan)(600,-2.6)(1000,-4.8)(1000,nan)
(557,-2.6)(1000,-5.7)(1000,nan)(529,-2.6)(1000,-6.6)(1000,nan)(510,-2.6)(1000,-7.5)(1000,nan)(496,-2.6)(1000,-8.4)(1000,nan)
(485,-2.6)(1000,-9.3)(1000,nan)(476,-2.6)(1000,-10.2)(1000,nan)(469,-2.6)(1000,-11.1)};
\end{axis}
\begin{axis}[gg,box={342}{1020.3}{731}{1131.3},xmin=-50,xmax=1049,ymin=-18.25,ymax=7.05,
  xtick={0,250,500,750,1000},xticklabels={0,250,500,750,1000},
  ytick={-15,-10,-5,0,5},yticklabels={-15,-10,-5,0,5}]
\edef\doit{\noexpand\addplot[cols] coordinates {\ptshi};}\doit
\edef\doit{\noexpand\addplot[gaps] coordinates {\gaphi};}\doit
\addplot[streak] coordinates {(620,-3.6)(750,-3.0)(880,-2.7)(1000,-2.5)};
\end{axis}
\lab{305}{797}{font=\bfseries\fontsize{14}{16}\selectfont}{E}
\lab{536.7}{1150}{font=\fontsize{11}{11}\selectfont,inner sep=0pt}{size}
\lab{319}{962}{font=\axt,rotate=90}{diff}
\lab{753.3}{933}{font=\bfseries\axt,anchor=west,inner sep=0pt}{shared}
\shade[bottom color=ggd,top color=ggl,draw=frameg,line width=0.3pt] (753.3*0.75pt,-943.3*0.75pt) rectangle (763.3*0.75pt,-995*0.75pt);
\lab{766.7}{945.3}{font=\legt,anchor=west,inner sep=0pt}{1.00}
\lab{766.7}{957}{font=\legt,anchor=west,inner sep=0pt}{0.75}
\lab{766.7}{969.3}{font=\legt,anchor=west,inner sep=0pt}{0.50}
\lab{766.7}{981.7}{font=\legt,anchor=west,inner sep=0pt}{0.25}
\lab{766.7}{994}{font=\legt,anchor=west,inner sep=0pt}{0.00}
\end{tikzpicture}
\end{document}
